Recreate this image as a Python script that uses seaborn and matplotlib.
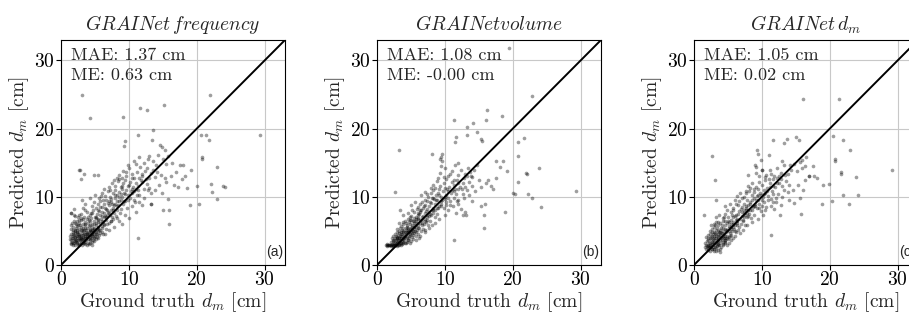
import matplotlib
matplotlib.use("Agg")
import matplotlib.pyplot as plt
import seaborn as sns
import pandas as pd

# ---------------- data ----------------
titles = [r"$GRAINet\,frequency$", r"$GRAINetvolume$", r"$GRAINet\,d_m$"]
mae_labels = ["MAE: 1.37 cm", "MAE: 1.08 cm", "MAE: 1.05 cm"]
me_labels = ["ME: 0.63 cm", "ME: -0.00 cm", "ME: 0.02 cm"]
panel_tags = ["(a)", "(b)", "(c)"]
ticks = [0, 10, 20, 30]
axis_max = 33

points_a = [
    (1.4,3.1),(1.7,3.0),(1.9,3.3),(2.1,3.0),(2.3,3.2),(2.5,2.9),(2.7,3.1),(2.9,3.3),(3.1,3.0),(3.3,3.2),
    (3.5,3.1),(3.8,3.0),(4.0,3.3),(4.3,3.2),(4.6,3.4),(4.9,3.5),(1.6,3.4),(2.0,3.5),(2.4,3.4),(2.8,3.6),
    (3.2,3.5),(3.6,3.4),(4.2,3.6),(5.2,3.8),
    (1.3,3.8),(1.5,3.6),(1.8,3.9),(2.0,4.1),(2.2,3.7),(2.4,4.0),(2.6,3.8),(2.8,4.2),(3.0,3.9),(3.2,4.1),
    (3.4,3.7),(3.6,4.0),(3.8,4.2),(4.0,3.8),(4.2,4.1),(4.4,3.9),(4.6,4.2),(4.8,4.0),(5.0,4.3),(5.3,4.1),
    (5.6,4.4),(1.7,4.2),(2.3,4.3),(2.9,3.8),(3.5,4.3),(4.1,4.4),(4.7,3.7),(5.5,3.9),
    (1.4,4.6),(1.7,4.8),(1.9,4.4),(2.1,4.7),(2.3,4.9),(2.5,4.5),(2.7,4.8),(2.9,4.4),(3.1,4.7),(3.3,5.0),
    (3.5,4.6),(3.7,4.9),(3.9,4.5),(4.1,4.8),(4.3,5.0),(4.5,4.6),(4.7,4.9),(4.9,4.5),(5.1,4.8),(5.4,5.0),
    (5.7,4.7),(6.0,4.9),(2.0,5.0),(2.6,4.3),(3.2,4.4),(3.8,4.7),(4.4,4.4),(5.2,4.6),(6.2,4.5),
    (1.5,5.3),(1.8,5.6),(2.0,5.2),(2.2,5.5),(2.5,5.8),(2.7,5.3),(2.9,5.6),(3.1,5.2),(3.3,5.5),(3.5,5.8),
    (3.7,5.2),(3.9,5.5),(4.1,5.7),(4.3,5.3),(4.5,5.6),(4.7,5.2),(4.9,5.5),(5.1,5.8),(5.3,5.3),(5.5,5.6),
    (5.8,5.2),(6.1,5.5),(6.4,5.8),(2.4,5.1),(3.4,5.1),(4.6,5.1),(5.6,5.1),(6.6,5.3),
    (1.6,6.2),(1.9,6.5),(2.2,6.0),(2.4,6.4),(2.7,6.1),(3.0,6.6),(3.2,6.0),(3.5,6.3),(3.8,6.7),(4.0,6.1),
    (4.3,6.4),(4.6,6.0),(4.8,6.5),(5.1,6.2),(5.4,6.6),(5.7,6.1),(6.0,6.4),(6.3,6.0),(6.6,6.6),(7.0,6.2),
    (2.9,6.9),(4.4,6.9),(5.9,6.8),(7.3,6.5),
    (1.5,7.6),(2.0,7.2),(2.5,7.0),(3.0,7.5),(3.4,7.1),(3.8,7.8),(4.2,7.3),(4.6,7.7),(5.0,7.1),(5.3,7.5),
    (5.6,7.9),(6.0,7.2),(6.3,7.6),(6.6,7.0),(6.9,7.8),(7.2,7.3),(7.5,7.0),(7.8,7.6),(4.0,7.0),(5.8,7.4),
    (6.8,7.4),(8.1,7.2),(1.9,7.3),(1.5,7.7),
    (1.9,8.2),(3.1,9.5),(3.5,8.9),(3.3,8.4),(4.5,8.6),(4.9,9.2),(5.2,8.3),(5.5,8.9),(5.8,9.4),(6.1,8.5),
    (6.4,9.0),(6.7,8.2),(7.0,8.8),(7.3,9.3),(7.6,8.4),(7.9,9.0),(8.2,8.6),(8.5,9.4),(8.8,8.2),(9.1,8.9),
    (6.2,9.6),(7.4,9.7),(8.3,8.0),
    (5.0,10.2),(5.6,9.9),(6.0,10.6),(6.5,10.1),(6.9,10.8),(7.2,10.0),(7.6,10.5),(8.0,11.0),(8.3,10.2),(8.6,10.7),
    (9.0,10.0),(9.3,10.6),(9.6,11.0),(9.9,10.3),(10.2,9.8),(10.5,10.6),(10.8,9.6),(8.8,9.6),(7.9,9.8),(11.2,10.2),
    (4.3,9.8),(6.3,11.1),
    (7.0,11.5),(7.5,12.0),(8.0,11.6),(8.4,12.3),(8.8,11.4),(9.2,12.0),(9.5,12.5),(9.8,11.6),(10.2,12.2),(10.6,11.4),
    (11.0,12.0),(11.4,11.6),(11.8,12.4),(12.2,11.2),(12.6,11.9),(13.0,11.3),(9.0,11.2),(10.4,11.1),(8.6,12.6),
    (8.5,13.2),(9.2,13.8),(9.6,13.0),(10.0,14.2),(10.4,13.4),(10.8,12.8),(11.2,13.6),(11.6,14.4),(12.0,13.0),(12.4,13.8),
    (12.9,12.8),(13.3,13.5),(13.8,12.9),(14.2,13.7),(14.8,13.2),(15.3,12.8),(9.9,14.6),(11.0,14.8),(12.7,14.3),
    (10.8,15.3),(11.5,15.8),(12.3,15.0),(13.0,16.0),(13.6,15.3),(14.3,16.2),(15.0,15.6),(15.4,14.8),(15.8,16.0),(16.3,14.9),
    (12.8,15.6),
    (10.5,8.6),(11.5,9.2),(12.3,9.8),(13.2,10.5),(13.8,11.0),(14.5,11.8),(15.5,12.2),(16.2,13.1),(17.0,13.7),(12.0,8.8),
    (11.0,7.8),(9.5,7.3),(10.0,6.9),(8.5,6.5),(9.0,6.0),(7.8,5.6),(8.2,6.9),(7.0,5.2),(6.5,4.6),(13.2,9.0),
    (17.8,12.6),(16.6,11.8),(14.9,10.6),(15.8,9.7),(18.3,13.1),
    (1.5,3.3),(1.8,3.2),(2.2,3.4),(2.6,3.0),(3.0,3.4),(3.4,3.3),(3.7,3.6),(4.1,3.1),(4.5,3.0),(1.9,3.7),
    (2.5,3.6),(3.1,3.8),(3.7,3.9),(4.3,3.8),(4.9,4.1),(1.6,4.0),(2.2,4.2),(2.8,4.0),(3.4,4.5),(4.0,4.6),
    (4.6,4.5),(5.3,4.5),(1.8,4.5),(2.4,4.7),(3.0,5.1),(3.6,5.4),(4.2,5.2),(4.8,5.3),(5.4,5.4),(6.0,5.7),
    (1.7,5.1),(2.3,5.7),(2.8,5.9),(3.6,6.0),(4.2,5.9),(4.9,6.0),(5.5,6.3),(6.2,6.3),(2.0,6.2),(2.6,6.6),
    (3.3,6.7),(4.1,6.6),(5.2,6.9),(6.5,7.2),(7.0,7.6),(7.7,8.1),(8.4,8.8),(9.4,9.4),(6.9,9.1),(5.5,8.1),
    (2.6,7.4),(3.6,8.1),(1.4,5.8),(1.3,4.3),(2.1,3.8),(2.7,4.4),(3.3,4.0),(3.9,4.1),(4.4,4.8),(5.0,5.0),
    (5.5,6.8),(6.0,7.8),(6.5,8.4),(7.0,9.4),(7.5,9.0),(8.0,10.2),(8.5,10.0),(9.0,11.6),(9.5,10.4),(10.0,11.8),
    (10.5,12.8),(11.0,11.2),(11.5,12.8),(12.0,12.2),(6.3,7.0),(6.8,8.0),(7.3,8.0),(7.8,8.8),(8.3,9.4),(8.8,10.4),
    (9.3,9.4),(9.8,9.6),(10.3,10.8),(10.8,10.8),(11.3,11.0),(5.1,7.0),(5.7,8.5),(4.7,8.0),(4.4,7.6),(5.9,10.1),
    (6.6,9.6),(7.2,11.0),(7.8,12.4),(8.2,12.8),(9.0,12.8),(9.6,13.6),(11.9,13.4),(12.5,12.6),(13.5,14.0),(14.0,14.6),
    (11.5,10.2),(12.8,11.0),(10.9,9.2),(9.7,8.4),(8.7,7.6),(7.7,6.8),(6.8,6.0),(7.4,6.4),
    (3.1,24.9),(21.9,25.0),(4.2,21.6),(9.2,21.7),(11.7,23.1),(12.7,22.7),(15.2,23.4),(13.6,19.8),(11.3,19.1),(9.5,18.2),
    (9.35,17.5),(13.4,18.3),(14.6,17.6),(14.9,17.3),(15.3,16.8),(20.6,19.1),(21.4,19.0),(21.8,18.3),(20.7,15.9),(20.7,15.5),
    (23.0,14.4),(2.8,13.9),(3.0,12.6),(3.35,13.3),(4.9,13.2),(5.4,13.2),(22.1,11.9),(22.3,10.7),(23.9,11.6),(24.2,11.4),
    (23.0,9.7),(20.1,11.6),(20.4,8.9),(19.0,8.8),(17.3,11.4),(18.6,11.3),(17.6,14.6),(18.0,14.6),(19.1,13.9),(15.1,8.1),
    (15.9,8.1),(15.9,6.0),(11.4,4.0),(13.3,9.0),(29.3,19.1),(2.6,14.0),
]

points_b = [
    (1.3,2.9),(1.5,2.8),(1.7,2.9),(1.9,3.0),(2.1,2.8),(2.3,2.9),(2.5,3.0),(2.7,2.9),(2.9,2.8),(3.1,3.0),
    (3.3,2.9),(1.6,3.0),(2.0,2.9),(2.4,2.8),(2.8,3.0),(3.5,3.0),(1.4,3.1),(2.2,3.1),(2.6,3.2),(3.0,3.2),
    (3.7,3.1),
    (2.0,3.4),(2.3,3.7),(2.5,3.3),(2.8,3.6),(3.0,3.9),(3.2,3.4),(3.4,3.7),(3.6,4.0),(3.8,3.3),(4.0,3.6),
    (4.2,3.9),(4.4,3.4),(4.6,3.7),(4.8,3.2),(5.0,3.5),(3.1,3.6),(3.9,3.8),(4.3,3.2),(5.3,3.8),(2.6,3.9),
    (3.5,3.3),(4.7,4.0),
    (2.4,4.3),(2.7,4.6),(2.9,4.1),(3.1,4.4),(3.3,4.7),(3.5,4.2),(3.7,4.5),(3.9,4.8),(4.1,4.2),(4.3,4.5),
    (4.5,4.8),(4.7,4.3),(4.9,4.6),(5.1,4.1),(5.3,4.4),(5.5,4.7),(5.8,4.2),(6.1,4.5),(3.0,4.8),(4.0,4.1),
    (5.0,4.9),(6.4,4.3),(2.2,4.0),
    (2.9,5.3),(3.2,5.0),(3.4,5.5),(3.7,5.1),(3.9,5.4),(4.1,4.9),(4.3,5.2),(4.5,5.5),(4.7,5.0),(4.9,5.3),
    (5.1,5.6),(5.3,5.0),(5.5,5.3),(5.7,5.6),(5.9,5.1),(6.2,5.4),(6.5,5.0),(6.8,5.3),(4.4,5.6),(5.8,4.9),
    (3.6,5.7),(7.1,5.1),
    (3.3,6.2),(3.8,6.0),(4.1,6.4),(4.4,5.9),(4.7,6.3),(5.0,6.6),(5.2,5.8),(5.5,6.1),(5.8,6.5),(6.0,5.9),
    (6.3,6.2),(6.6,6.6),(6.9,6.0),(7.2,6.3),(7.5,5.8),(4.9,6.0),(6.1,6.8),(7.8,6.4),(4.5,6.8),(5.4,6.9),
    (3.8,7.3),(4.5,7.6),(5.0,7.2),(5.4,7.8),(5.8,7.1),(6.2,7.5),(6.5,8.0),(6.8,7.2),(7.1,7.6),(7.4,7.0),
    (7.7,7.8),(8.0,7.3),(8.3,7.7),(8.6,7.1),(6.0,6.9),(7.0,6.8),(8.9,7.5),(5.2,8.1),
    (5.0,8.8),(5.6,9.2),(6.0,8.5),(6.4,9.0),(6.8,8.3),(7.1,8.8),(7.4,9.4),(7.7,8.6),(8.0,9.1),(8.3,8.4),
    (8.6,8.9),(8.9,9.5),(9.2,8.6),(9.5,9.0),(9.8,8.3),(10.1,8.8),(7.0,9.6),(8.4,9.7),(6.3,8.0),
    (6.5,10.2),(7.0,10.7),(7.5,10.0),(7.9,10.5),(8.3,11.0),(8.7,10.2),(9.0,10.6),(9.4,10.0),(9.7,10.8),(10.1,10.3),
    (10.5,9.8),(10.9,10.5),(11.3,9.9),(11.7,10.4),(9.2,11.1),(10.3,11.2),(8.1,9.8),(12.0,9.6),
    (8.2,11.8),(8.8,12.3),(9.3,11.6),(9.8,12.1),(10.2,12.6),(10.6,11.5),(11.0,12.2),(11.4,11.7),(11.8,12.5),(12.2,11.4),
    (12.6,12.0),(13.0,11.5),(13.5,12.2),(10.0,11.3),(11.9,11.1),(14.0,11.6),
    (9.3,13.5),(10.0,14.2),(10.5,13.0),(11.1,13.8),(11.5,14.6),(12.0,13.2),(12.4,14.0),(12.9,13.4),(13.4,14.3),(13.8,13.0),
    (14.3,13.9),(14.8,14.6),(11.9,15.0),(9.6,15.3),(9.5,15.8),
    (10.5,8.0),(11.2,8.6),(12.0,9.0),(12.8,9.8),(13.6,10.3),(14.5,10.8),(15.3,11.4),(16.0,12.0),(16.8,11.6),(11.6,7.6),
    (10.0,7.4),(9.2,6.8),(8.5,6.2),(7.6,5.5),(7.0,4.8),(8.1,5.9),(12.4,8.2),(13.0,7.8),(14.0,9.4),(17.5,12.8),
    (6.2,4.0),(5.7,3.6),
    (1.5,2.9),(1.8,2.9),(2.2,3.0),(2.6,2.9),(3.2,3.1),(3.4,3.2),(3.9,3.4),(2.4,3.5),(2.9,3.3),(3.3,3.9),
    (3.7,3.5),(4.1,3.3),(4.5,3.6),(2.8,4.3),(3.2,4.0),(3.6,4.6),(4.0,4.4),(4.4,4.1),(4.8,4.4),(5.2,4.7),
    (3.5,4.9),(3.9,5.0),(4.2,5.5),(4.6,5.2),(5.0,5.4),(5.4,5.6),(5.6,5.0),(6.0,5.5),(3.9,6.3),(4.3,6.1),
    (4.8,6.6),(5.3,6.4),(5.7,6.8),(6.4,6.6),(6.7,7.0),(7.3,7.3),(7.8,7.5),(8.2,8.1),(8.8,8.4),(9.4,9.4),
    (10.0,9.7),(6.0,7.6),(4.8,7.0),(2.5,3.7),(2.9,3.9),(3.4,4.3),(4.6,4.9),(5.6,5.8),(6.6,6.1),(7.0,6.4),
    (3.0,3.5),(3.8,3.9),(4.2,4.8),(5.2,5.2),(5.9,6.1),
    (5.5,6.5),(6.0,7.3),(6.4,7.8),(6.9,8.6),(7.3,8.2),(7.8,9.2),(8.2,9.8),(8.7,9.6),(9.1,10.2),(9.6,9.6),
    (10.0,10.0),(10.5,10.8),(11.0,11.0),(11.5,11.2),(12.0,12.0),(12.5,11.2),(7.2,7.9),(7.6,7.2),(8.1,8.0),(8.6,8.0),
    (9.0,8.4),(9.5,8.6),(10.2,9.2),(10.8,9.4),(11.4,10.8),(5.9,8.2),(6.7,9.2),(7.3,10.4),(8.0,11.3),(8.6,11.3),
    (9.0,12.8),(9.9,12.9),(10.8,13.4),(11.3,12.4),(12.8,12.8),(13.2,13.0),(13.7,13.6),(12.7,10.4),(13.3,11.0),(11.8,9.4),
    (10.7,8.8),(7.3,6.6),(6.6,5.8),
    (16.2,22.7),(18.4,21.9),(16.1,21.3),(11.3,21.2),(14.2,20.9),(13.3,20.2),(22.8,24.8),(11.7,18.8),(11.5,18.1),(13.2,19.0),
    (14.8,19.5),(15.3,18.5),(15.4,18.2),(3.2,16.9),(8.1,16.3),(9.6,16.3),(9.3,15.5),(9.4,14.5),(2.7,10.7),(3.4,8.1),
    (17.6,15.3),(18.6,15.3),(18.1,14.4),(19.2,13.8),(20.7,18.1),(21.7,18.7),(20.7,16.0),(22.0,13.5),(22.1,13.4),(23.9,14.3),
    (20.8,12.2),(20.1,10.5),(20.4,10.4),(22.3,10.4),(22.9,9.9),(24.1,8.5),(18.9,7.8),(17.1,11.2),(15.9,9.0),(15.3,8.6),
    (15.8,7.3),(15.8,5.5),(11.4,3.7),(12.6,7.3),(13.1,7.3),(15.1,12.4),(16.3,12.5),(14.0,12.9),(29.3,10.9),(19.4,31.9),
]

points_c = [
    (1.8,2.4),(2.0,2.2),(2.2,2.6),(2.4,2.0),(2.6,2.3),(2.8,2.7),(3.0,2.1),(3.2,2.5),(3.4,2.8),(3.6,2.2),
    (3.8,1.9),(2.1,2.8),(2.9,2.4),(3.3,2.0),(4.0,2.6),(1.6,2.7),(2.5,2.8),(4.2,2.9),
    (1.6,3.2),(1.9,3.5),(2.1,3.0),(2.3,3.3),(2.5,3.6),(2.7,3.1),(2.9,3.4),(3.1,2.9),(3.3,3.2),(3.5,3.5),
    (3.7,3.0),(3.9,3.3),(4.1,3.6),(4.3,3.1),(4.5,3.4),(4.8,3.0),(5.1,3.3),(2.0,3.7),(2.8,3.8),(3.6,3.8),
    (4.6,3.7),(5.4,3.6),(1.7,2.9),
    (1.8,4.1),(2.1,4.4),(2.4,3.9),(2.6,4.2),(2.8,4.5),(3.0,4.0),(3.2,4.3),(3.4,3.7),(3.6,4.1),(3.8,4.4),
    (4.0,3.9),(4.2,4.2),(4.4,4.5),(4.6,4.0),(4.8,4.3),(5.0,3.8),(5.2,4.1),(5.5,4.4),(5.8,3.9),(3.5,4.6),
    (4.5,3.7),(2.3,4.6),(6.1,4.2),
    (2.3,5.0),(2.6,5.3),(2.9,4.8),(3.2,5.1),(3.4,5.4),(3.7,4.9),(3.9,5.2),(4.1,4.7),(4.3,5.0),(4.5,5.3),
    (4.7,4.8),(4.9,5.1),(5.1,5.4),(5.3,4.7),(5.6,5.0),(5.9,5.3),(6.2,4.8),(6.5,5.1),(4.0,5.5),(5.4,5.6),
    (3.0,5.6),(6.8,4.7),
    (2.9,6.0),(3.3,6.3),(3.6,5.8),(3.9,6.1),(4.2,6.4),(4.5,5.9),(4.8,6.2),(5.1,5.7),(5.4,6.0),(5.7,6.3),
    (6.0,5.8),(6.3,6.1),(6.6,5.6),(6.9,6.0),(7.2,6.4),(5.0,6.5),(6.2,6.6),(7.5,5.9),(2.5,5.9),
    (3.2,7.0),(3.7,7.4),(4.2,6.9),(4.6,7.5),(5.0,7.1),(5.4,7.8),(5.8,7.0),(6.2,7.4),(6.6,7.9),(7.0,7.2),
    (7.4,7.6),(7.8,7.0),(8.1,7.5),(8.4,6.9),(6.4,6.7),(7.6,8.0),(4.9,8.0),(8.8,7.3),
    (4.5,8.7),(5.3,9.0),(5.8,8.4),(6.2,8.9),(6.6,9.4),(7.0,8.5),(7.3,9.0),(7.6,8.3),(8.0,8.8),(8.3,9.3),
    (8.7,8.5),(9.0,9.0),(9.3,8.3),(9.6,8.9),(10.0,8.6),(6.0,9.6),(7.8,9.6),(8.9,9.8),
    (6.3,10.1),(6.8,10.6),(7.3,10.0),(7.7,10.5),(8.1,10.9),(8.5,10.2),(8.9,10.7),(9.3,10.1),(9.7,10.6),(10.1,10.0),
    (10.5,10.6),(10.9,10.1),(11.3,9.7),(11.7,10.4),(9.5,11.1),(10.3,11.0),(12.1,9.9),
    (8.0,11.6),(8.6,12.1),(9.1,11.5),(9.6,12.2),(10.0,11.7),(10.4,12.4),(10.8,11.3),(11.2,12.0),(11.6,12.6),(12.0,11.5),
    (12.5,12.1),(13.0,11.6),(13.5,12.3),(11.0,12.6),(12.3,12.7),(14.0,11.8),
    (9.2,13.5),(10.0,14.0),(10.6,13.2),(11.2,13.9),(11.8,13.1),(12.3,14.2),(12.8,13.5),(13.3,14.6),(13.8,13.3),(14.3,14.0),
    (14.7,14.8),(15.2,13.8),(15.6,15.1),(15.9,14.3),(9.0,14.6),(13.0,15.2),
    (10.5,8.0),(11.3,8.7),(12.1,9.2),(13.0,10.0),(13.8,10.7),(14.6,11.0),(15.3,11.8),(16.3,12.4),(17.0,13.0),(11.8,8.2),
    (10.2,7.4),(9.4,6.8),(8.6,6.3),(7.8,5.8),(7.2,5.2),(12.8,8.8),(14.0,9.6),(16.0,11.0),(9.8,7.9),(12.6,7.4),
    (2.0,2.5),(2.3,2.9),(2.7,2.4),(3.1,2.6),(3.5,2.9),(3.9,2.4),(2.2,3.2),(2.6,3.4),(3.0,3.7),(3.4,3.4),
    (3.8,3.6),(4.2,3.4),(4.6,3.2),(2.0,3.9),(2.5,4.1),(2.9,4.2),(3.3,4.5),(3.7,4.3),(4.1,4.1),(4.5,4.2),
    (4.9,4.0),(5.3,4.3),(2.7,4.8),(3.1,4.7),(3.5,5.0),(3.9,4.8),(4.3,5.4),(4.7,5.1),(5.1,5.0),(5.5,5.3),
    (6.0,5.0),(3.1,5.8),(3.6,6.3),(4.1,5.8),(4.6,6.4),(5.2,6.3),(5.8,6.0),(6.4,6.4),(6.8,6.8),(7.3,7.0),
    (7.8,7.6),(8.3,8.1),(8.8,8.7),(9.4,9.5),(10.0,9.6),(4.4,7.1),(5.6,7.4),(2.4,2.6),(2.8,3.2),(3.2,3.9),
    (3.6,3.1),(4.0,4.7),(4.4,3.9),(1.9,2.8),(5.7,5.6),
    (5.5,6.6),(6.0,7.2),(6.5,7.5),(6.9,8.2),(7.3,8.0),(7.7,8.6),(8.2,9.0),(8.6,9.6),(9.1,9.5),(9.5,10.2),
    (9.9,10.3),(10.3,10.4),(10.8,10.9),(11.2,11.4),(11.7,11.6),(12.2,12.0),(12.8,12.6),(7.0,7.8),(7.5,7.3),(8.0,8.1),
    (8.5,8.0),(9.0,8.6),(9.6,8.4),(10.3,9.2),(10.9,9.5),(11.5,10.8),(5.7,8.0),(6.5,8.8),(7.1,9.8),(7.6,10.8),
    (8.3,11.3),(8.8,11.1),(9.6,13.0),(10.4,12.9),(11.4,13.3),(12.5,13.0),(13.4,13.2),(14.2,14.6),(13.2,11.0),(12.4,10.4),
    (11.6,9.2),(10.6,8.5),(8.0,7.2),(7.2,6.6),(6.4,5.9),
    (16.0,24.3),(21.3,24.4),(2.65,16.0),(3.1,12.5),(3.3,9.5),(1.4,7.4),(11.6,18.3),(13.2,17.9),(13.7,18.5),(15.1,18.8),
    (15.4,18.3),(9.3,16.8),(9.5,16.3),(11.1,16.1),(9.9,15.4),(10.0,14.0),(16.5,15.8),(15.9,15.4),(20.5,18.9),(22.0,18.3),
    (20.8,15.5),(20.8,15.2),(23.0,16.8),(21.6,13.7),(21.7,13.4),(23.8,12.9),(19.9,11.9),(19.0,11.7),(17.7,13.0),(18.1,12.7),
    (18.8,9.0),(20.4,9.4),(22.0,10.2),(22.9,9.0),(24.1,10.2),(15.7,7.5),(14.7,9.1),(15.6,9.9),(11.3,4.4),(17.0,13.0),
    (16.3,14.5),(17.5,14.5),(29.1,14.0),(9.2,14.4),(7.9,13.2),
]
all_points = [points_a, points_b, points_c]

# ---------------- style ----------------
sns.set_theme(style="ticks")
plt.rcParams["font.family"] = ["cmr10", "DejaVu Serif"]
plt.rcParams["mathtext.fontset"] = "cm"
plt.rcParams["axes.formatter.use_mathtext"] = True
plt.rcParams["axes.unicode_minus"] = False

W, H = 909, 313
fig = plt.figure(figsize=(W / 100, H / 100), dpi=100)
lefts = [61, 377, 694]
ax_w, ax_h = 224, 225
ax_bottom = 313 - 265

for i in range(3):
    ax = fig.add_axes([lefts[i] / W, ax_bottom / H, ax_w / W, ax_h / H])
    df = pd.DataFrame(all_points[i], columns=["gt", "pred"])
    ax.grid(True, color="#c8c8c8", linewidth=0.8, zorder=0)
    ax.set_axisbelow(True)
    sns.scatterplot(data=df, x="gt", y="pred", color="black", alpha=0.38,
                    s=7, linewidth=0, ax=ax, zorder=2)
    sns.lineplot(x=[0, axis_max], y=[0, axis_max], color="black", linewidth=1.4,
                 ax=ax, zorder=3)
    ax.set_xlim(0, axis_max)
    ax.set_ylim(0, axis_max)
    ax.set_xticks(ticks)
    ax.set_yticks(ticks)
    ax.tick_params(axis="both", labelsize=14, length=3.5, width=0.8, pad=1,
                   colors="black", direction="out")
    for sp in ax.spines.values():
        sp.set_color("black")
        sp.set_linewidth(0.8)
    ax.set_xlabel(r"Ground truth $d_m$ [cm]", fontsize=14, labelpad=1)
    ax.set_ylabel(r"Predicted $d_m$ [cm]", fontsize=14, labelpad=2)
    ax.set_title(titles[i], fontsize=14, pad=7)
    ax.text(0.045, 0.965, mae_labels[i], transform=ax.transAxes, fontsize=13,
            va="top", ha="left")
    ax.text(0.045, 0.875, me_labels[i], transform=ax.transAxes, fontsize=13,
            va="top", ha="left")
    ax.text(0.99, 0.025, panel_tags[i], transform=ax.transAxes, fontsize=10,
            va="bottom", ha="right", family=["Liberation Sans", "DejaVu Sans"])

fig.savefig("out.png", dpi=100)
